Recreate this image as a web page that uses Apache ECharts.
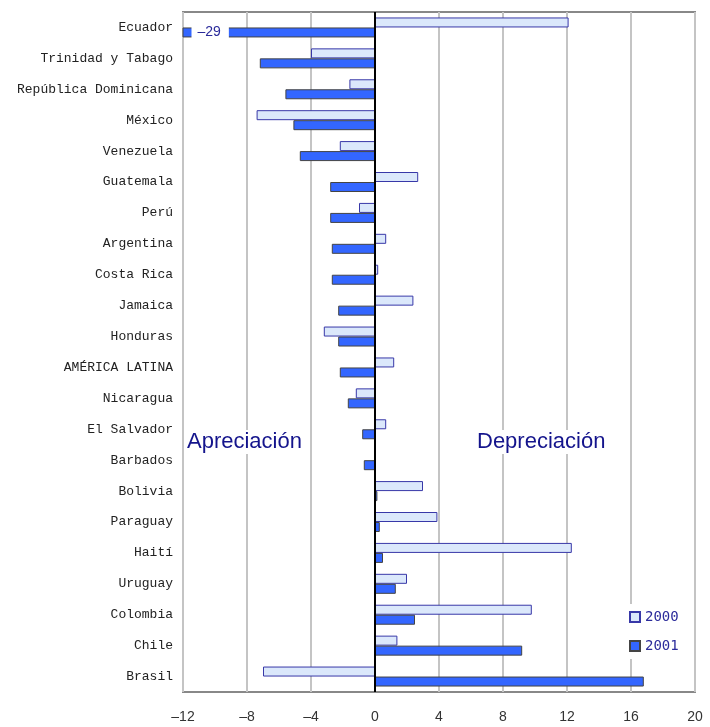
<!DOCTYPE html>
<html>
<head>
<meta charset="utf-8">
<script src="https://cdn.jsdelivr.net/npm/echarts@6/dist/echarts.min.js"></script>
<style>
html,body{margin:0;padding:0;background:#fff;}
#chart{width:710px;height:727px;}
</style>
</head>
<body>
<div id="chart"></div>
<script>
const categories = ["Ecuador","Trinidad y Tabago","República Dominicana","México","Venezuela","Guatemala","Perú","Argentina","Costa Rica","Jamaica","Honduras","AMÉRICA LATINA","Nicaragua","El Salvador","Barbados","Bolivia","Paraguay","Haití","Uruguay","Colombia","Chile","Brasil"];
const values2000 = [12.1,-4.0,-1.6,-7.4,-2.2,2.7,-1.0,0.7,0.2,2.4,-3.2,1.2,-1.2,0.7,0,3.0,3.9,12.3,2.0,9.8,1.4,-7.0];
const values2001 = [-29,-7.2,-5.6,-5.1,-4.7,-2.8,-2.8,-2.7,-2.7,-2.3,-2.3,-2.2,-1.7,-0.8,-0.7,0.15,0.3,0.5,1.3,2.5,9.2,16.8];
const xTicks = [-12,-8,-4,0,4,8,12,16,20];
const seriesNames = ["2000","2001"];
const sideLabels = ["Apreciación","Depreciación"];

const chart = echarts.init(document.getElementById('chart'));
const data2001 = values2001.map((v, i) => {
  if (v < xTicks[0]) {
    return {
      value: v,
      label: {
        show: true, position: 'insideLeft', distance: 9,
        formatter: String(v).replace('-', '–'),
        backgroundColor: '#ffffff', color: '#2a2a9a',
        fontFamily: 'Liberation Sans', fontSize: 14,
        padding: [2, 8, 1, 6]
      }
    };
  }
  return v;
});

chart.setOption({
  animation: false,
  backgroundColor: '#ffffff',
  grid: { left: 183, right: 15, top: 12, bottom: 35, show: true, borderColor: '#888888', borderWidth: 2, backgroundColor: 'transparent' },
  xAxis: {
    type: 'value', min: xTicks[0], max: xTicks[xTicks.length - 1], interval: 4,
    axisLine: { show: false }, axisTick: { show: false },
    splitLine: { show: true, lineStyle: { color: '#c4c4c4', width: 2 } },
    axisLabel: {
      margin: 18, color: '#333333', fontFamily: 'Liberation Sans', fontSize: 14,
      formatter: v => String(v).replace('-', '–')
    }
  },
  yAxis: {
    type: 'category', data: categories, inverse: true,
    axisLine: { show: false, onZero: false }, axisTick: { show: false },
    axisLabel: { margin: 10, color: '#222222', fontFamily: 'Liberation Mono', fontSize: 13 }
  },
  legend: {
    orient: 'vertical', left: 624, top: 604, itemWidth: 10, itemHeight: 10, itemGap: 15,
    icon: 'rect',
    backgroundColor: '#ffffff', padding: [6, 5, 6, 5],
    textStyle: { color: '#2b2b9b', fontFamily: 'DejaVu Sans Mono', fontSize: 14 },
    data: seriesNames
  },
  graphic: [
    { type: 'text', left: 185, top: 430, z: 10, style: { text: sideLabels[0], fill: '#14148c', font: '22px "Liberation Sans"', backgroundColor: '#ffffff', padding: [1, 2, 1, 2] } },
    { type: 'text', left: 475, top: 430, z: 10, style: { text: sideLabels[1], fill: '#14148c', font: '22px "Liberation Sans"', backgroundColor: '#ffffff', padding: [1, 2, 1, 2] } }
  ],
  series: [
    {
      name: seriesNames[0], type: 'bar', data: values2000, barWidth: 10, barGap: '0%',
      itemStyle: { color: '#dbe8fb', borderColor: '#3838a8', borderWidth: 1 },
      markLine: {
        silent: true, symbol: ['none', 'none'], label: { show: false },
        lineStyle: { color: '#000000', width: 2, type: 'solid' },
        data: [{ xAxis: 0 }]
      }
    },
    {
      name: seriesNames[1], type: 'bar', data: data2001, barWidth: 10, barGap: '0%',
      itemStyle: { color: '#3366ff', borderColor: '#444444', borderWidth: 1 }
    }
  ]
});
</script>
</body>
</html>
